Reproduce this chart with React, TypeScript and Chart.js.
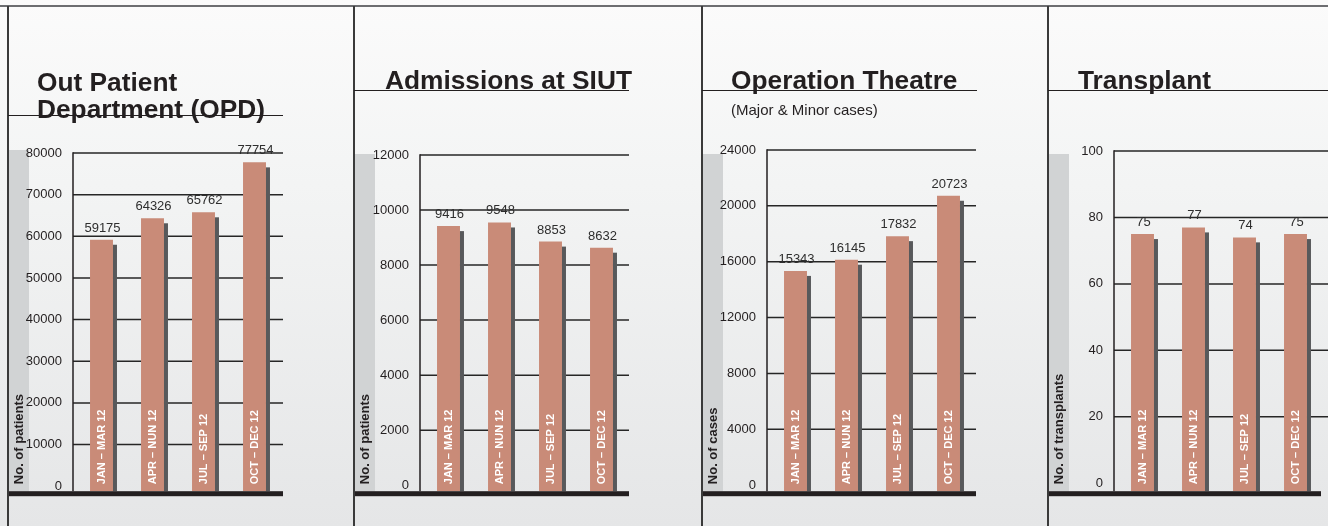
import React, { useEffect, useRef } from "react";
import { Chart, registerables } from "chart.js";

Chart.register(...registerables);

// ---------- DATA ----------
const quarterLabels = ["JAN – MAR 12", "APR – NUN 12", "JUL – SEP 12", "OCT – DEC 12"];
const opdValues = [59175, 64326, 65762, 77754];
const admissionValues = [9416, 9548, 8853, 8632];
const operationValues = [15343, 16145, 17832, 20723];
const transplantValues = [75, 77, 74, 75];
const opdTicks = [0, 10000, 20000, 30000, 40000, 50000, 60000, 70000, 80000];
const admissionTicks = [0, 2000, 4000, 6000, 8000, 10000, 12000];
const operationTicks = [0, 4000, 8000, 12000, 16000, 20000, 24000];
const transplantTicks = [0, 20, 40, 60, 80, 100];

// ---------- STYLE / LAYOUT ----------
const FONT = "'Liberation Sans', Arial, Helvetica, sans-serif";
const INK = "#231f20";
const BAR = "#c98b78";
const SHADOW = "#58595b";
const GREY = "#d1d3d4";
const CANVAS_TOP = 130;
const CANVAS_BOTTOM = 505;
const BASE_Y = 492;

type PanelLayout = {
  title: string[];
  subtitle?: string;
  axisTitle: string;
  values: number[];
  ticks: number[];
  L: number;
  chartLeft: number;
  chartRight: number;
  gridRight: number;
  baseRight: number;
  top: number;
  zeroY: number;
  greyTop: number;
  underlineY: number;
  underlineRight: number;
  titleX: number;
  titleTop: number;
};

const panels: PanelLayout[] = [
  {
    title: ["Out Patient", "Department (OPD)"],
    axisTitle: "No. of patients",
    values: opdValues,
    ticks: opdTicks,
    L: 8, chartLeft: 76, chartRight: 280, gridRight: 283, baseRight: 283,
    top: 153, zeroY: 487, greyTop: 150, underlineY: 114.5, underlineRight: 283,
    titleX: 37, titleTop: 68.5,
  },
  {
    title: ["Admissions at SIUT"],
    axisTitle: "No. of patients",
    values: admissionValues,
    ticks: admissionTicks,
    L: 354, chartLeft: 423, chartRight: 627, gridRight: 629, baseRight: 630,
    top: 155, zeroY: 486, greyTop: 154, underlineY: 89.5, underlineRight: 629,
    titleX: 385, titleTop: 67,
  },
  {
    title: ["Operation Theatre"],
    subtitle: "(Major & Minor cases)",
    axisTitle: "No. of cases",
    values: operationValues,
    ticks: operationTicks,
    L: 702, chartLeft: 770, chartRight: 974, gridRight: 976, baseRight: 977,
    top: 150, zeroY: 486, greyTop: 154, underlineY: 89.5, underlineRight: 977,
    titleX: 731, titleTop: 67,
  },
  {
    title: ["Transplant"],
    axisTitle: "No. of transplants",
    values: transplantValues,
    ticks: transplantTicks,
    L: 1048, chartLeft: 1117, chartRight: 1321, gridRight: 1328, baseRight: 1321,
    top: 151, zeroY: 484, greyTop: 154, underlineY: 89.5, underlineRight: 1328,
    titleX: 1078, titleTop: 67,
  },
];

function makeDecor(p: PanelLayout) {
  return {
    id: "decor",
    beforeDraw(chart: any) {
      const ctx = chart.ctx;
      const { bottom } = chart.chartArea;
      const gt = p.greyTop - CANVAS_TOP;
      ctx.save();
      ctx.fillStyle = GREY;
      ctx.fillRect(0, gt, 21, bottom - gt);
      ctx.restore();
    },
    beforeDatasetsDraw(chart: any) {
      const ctx = chart.ctx;
      const y = chart.scales.y;
      const { left } = chart.chartArea;
      const axisX = left - 3;
      const gridEnd = p.gridRight - p.L;
      ctx.save();
      ctx.strokeStyle = "#262626";
      ctx.lineWidth = 1.5;
      y.ticks.forEach((t: any) => {
        if (t.value <= 0) return;
        const py = y.getPixelForValue(t.value);
        ctx.beginPath();
        ctx.moveTo(axisX, py);
        ctx.lineTo(gridEnd, py);
        ctx.stroke();
      });
      const meta = chart.getDatasetMeta(0);
      ctx.fillStyle = SHADOW;
      meta.data.forEach((bar: any) => {
        const { x, y: by, width, base } = bar.getProps(["x", "y", "width", "base"], true);
        ctx.fillRect(x + width / 2 - 0.5, by + 5, 4.5, base - by - 5);
      });
      ctx.restore();
    },
    afterDatasetsDraw(chart: any) {
      const ctx = chart.ctx;
      const y = chart.scales.y;
      const { left, bottom } = chart.chartArea;
      const axisX = left - 3;
      const meta = chart.getDatasetMeta(0);
      const maxTick = p.ticks[p.ticks.length - 1];
      ctx.save();
      // value labels
      ctx.font = `13px ${FONT}`;
      ctx.fillStyle = "#2e2e2e";
      ctx.textAlign = "center";
      ctx.textBaseline = "alphabetic";
      meta.data.forEach((bar: any, i: number) => {
        const { x, y: by } = bar.getProps(["x", "y"], true);
        ctx.fillText(String(p.values[i]), x + 1, by - 8);
      });
      // category labels inside bars
      ctx.font = `bold 11px ${FONT}`;
      ctx.fillStyle = "#ffffff";
      ctx.textAlign = "left";
      ctx.textBaseline = "middle";
      meta.data.forEach((bar: any, i: number) => {
        const { x } = bar.getProps(["x"], true);
        ctx.save();
        ctx.translate(x + 0.5, bottom - 7);
        ctx.rotate(-Math.PI / 2);
        ctx.fillText(chart.data.labels[i], 0, 0);
        ctx.restore();
      });
      // y axis line
      ctx.strokeStyle = INK;
      ctx.lineWidth = 1.5;
      ctx.beginPath();
      ctx.moveTo(axisX, y.getPixelForValue(maxTick) - 0.75);
      ctx.lineTo(axisX, bottom);
      ctx.stroke();
      // thick baseline
      ctx.fillStyle = INK;
      ctx.fillRect(0, bottom, p.baseRight - p.L, 5);
      // axis title
      ctx.font = `bold 13px ${FONT}`;
      ctx.fillStyle = INK;
      ctx.textAlign = "left";
      ctx.textBaseline = "middle";
      ctx.translate(11, bottom - 7);
      ctx.rotate(-Math.PI / 2);
      ctx.fillText(p.axisTitle, 0, 0);
      ctx.restore();
    },
  };
}

function BarPanel({ p }: { p: PanelLayout }) {
  const ref = useRef<HTMLCanvasElement | null>(null);
  const width = p.gridRight - p.L;
  const height = CANVAS_BOTTOM - CANVAS_TOP;

  useEffect(() => {
    if (!ref.current) return;
    const max = p.ticks[p.ticks.length - 1];
    const min = max - (max * (BASE_Y - p.top)) / (p.zeroY - p.top);
    const chart = new Chart(ref.current, {
      type: "bar",
      data: {
        labels: quarterLabels,
        datasets: [
          {
            data: p.values,
            backgroundColor: BAR,
            borderWidth: 0,
            barPercentage: 0.45,
            categoryPercentage: 1,
            base: min,
          } as any,
        ],
      },
      options: {
        animation: false,
        responsive: false,
        devicePixelRatio: 1,
        events: [],
        layout: {
          padding: {
            top: p.top - CANVAS_TOP,
            bottom: CANVAS_BOTTOM - BASE_Y,
            left: 0,
            right: p.gridRight - p.chartRight,
          },
        },
        plugins: {
          legend: { display: false },
          tooltip: { enabled: false },
        },
        scales: {
          x: { display: false, offset: true },
          y: {
            min,
            max,
            grid: { display: false },
            border: { display: false },
            ticks: {
              padding: 6,
              color: INK,
              font: { size: 13, family: FONT },
              callback: (v: any) => String(v),
            },
            afterBuildTicks: (scale: any) => {
              scale.ticks = p.ticks.map((v) => ({ value: v }));
            },
            afterFit: (scale: any) => {
              scale.width = p.chartLeft - p.L;
            },
          } as any,
        },
      },
      plugins: [makeDecor(p)],
    });
    return () => chart.destroy();
  }, []);

  return (
    <>
      <canvas
        ref={ref}
        width={width}
        height={height}
        style={{ position: "absolute", left: p.L, top: CANVAS_TOP, width, height }}
      />
      <div style={{ position: "absolute", left: p.L - 1, top: 6, width: 1.5, height: 520, background: "#3a3a3a" }} />
      <div
        style={{
          position: "absolute",
          left: p.L,
          top: p.underlineY,
          width: p.underlineRight - p.L,
          height: 1.3,
          background: INK,
        }}
      />
      <div
        style={{
          position: "absolute",
          left: p.titleX,
          top: p.titleTop,
          fontFamily: FONT,
          fontWeight: "bold",
          fontSize: 26.3,
          lineHeight: "27px",
          color: INK,
          whiteSpace: "nowrap",
        }}
      >
        {p.title.map((t, i) => (
          <div key={i}>{t}</div>
        ))}
      </div>
      {p.subtitle && (
        <div
          style={{
            position: "absolute",
            left: p.titleX,
            top: 101.3,
            fontFamily: FONT,
            fontSize: 15,
            lineHeight: "17px",
            color: INK,
            whiteSpace: "nowrap",
          }}
        >
          {p.subtitle}
        </div>
      )}
    </>
  );
}

export default function App() {
  return (
    <div
      style={{
        position: "absolute",
        left: 0,
        top: 0,
        width: 1328,
        height: 526,
        overflow: "hidden",
        background: "linear-gradient(to bottom, #fbfbfb 0%, #f3f4f4 35%, #e5e6e7 100%)",
      }}
    >
      <div style={{ position: "absolute", left: 0, top: 5, width: 1328, height: 2, background: "#6d6e71" }} />
      {panels.map((p, i) => (
        <BarPanel key={i} p={p} />
      ))}
    </div>
  );
}
